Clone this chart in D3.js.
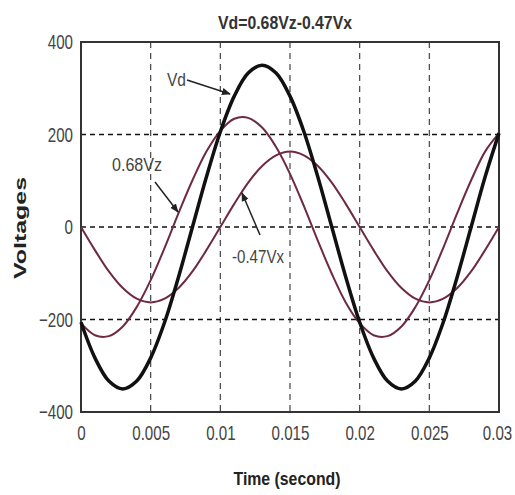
<!DOCTYPE html>
<html>
<head>
<meta charset="utf-8">
<script src="https://cdn.jsdelivr.net/npm/d3@7"></script>
<style>
  body { margin: 0; background: #fff; }
  text { font-family: "Liberation Sans", Arial, sans-serif; }
</style>
</head>
<body>
<script>
// Vd = 0.68Vz - 0.47Vx, readings every 1 ms

var timeMs = d3.range(0, 31);   // 0 .. 30 ms

var vd = [-206, -283, -333, -350, -333, -283, -206, -108, 0, 108,
    206, 283, 333, 350, 333, 283, 206, 108, 0, -108,
    -206, -283, -333, -350, -333, -283, -206, -108, 0, 108, 203];

var vz68 = [-208, -234, -236, -215, -173, -115, -45, 30, 101, 163,
    208, 234, 236, 215, 173, 115, 45, -30, -101, -163,
    -208, -234, -236, -215, -173, -115, -45, 30, 101, 163, 203];

var vx47 = [0, -50, -96, -132, -155, -163, -155, -132, -96, -50,
    0, 50, 96, 132, 155, 163, 155, 132, 96, 50,
    0, -50, -96, -132, -155, -163, -155, -132, -96, -50, 0];

var xTicks = [0, 0.005, 0.01, 0.015, 0.02, 0.025, 0.03];
var yTicks = [-400, -200, 0, 200, 400];

var margin = {left: 81, right: 16, top: 42, bottom: 83},
    width = 515 - margin.left - margin.right,
    height = 495 - margin.top - margin.bottom;

var svg = d3.select("body")
    .append("svg")
    .attr("width", 515)
    .attr("height", 495);

var g = svg.append("g")
    .attr("transform", "translate(" + margin.left + "," + margin.top + ")");

var x = d3.scaleLinear().domain([0, 0.03]).range([0, width]);
var y = d3.scaleLinear().domain([-400, 400]).range([height, 0]);

//squeeze text horizontally, the original uses a narrow face
function narrow(sel, k) {
    sel.each(function() {
        var w = this.getComputedTextLength();
        d3.select(this)
            .attr("textLength", w * k)
            .attr("lengthAdjust", "spacingAndGlyphs");
    });
}

//Dashed grid
g.selectAll(".vgrid")
    .data(xTicks.slice(1, -1))
    .enter().append("line")
    .attr("x1", function(d) { return x(d); })
    .attr("x2", function(d) { return x(d); })
    .attr("y1", 0)
    .attr("y2", height)
    .attr("stroke", "#444")
    .attr("stroke-width", 1.2)
    .attr("stroke-dasharray", "6,5");

g.selectAll(".hgrid")
    .data(yTicks.slice(1, -1))
    .enter().append("line")
    .attr("x1", 0)
    .attr("x2", width)
    .attr("y1", function(d) { return y(d); })
    .attr("y2", function(d) { return y(d); })
    .attr("stroke", "#111")
    .attr("stroke-width", 1.3)
    .attr("stroke-dasharray", "5,4");

//Axes
var xAxis = d3.axisBottom(x)
    .tickValues(xTicks)
    .tickSize(0)
    .tickPadding(13)
    .tickFormat(function(d) { return d3.format("~g")(d); });

var yAxis = d3.axisLeft(y)
    .tickValues(yTicks)
    .tickSize(0)
    .tickPadding(8);

g.append("g")
    .attr("transform", "translate(0," + height + ")")
    .call(xAxis)
    .call(function(s) { s.select(".domain").remove(); })
    .selectAll("text")
    .attr("font-size", 21)
    .attr("fill", "#444")
    .attr("dx", function(d) { return d === 0.03 ? -2 : 0; })
    .call(narrow, 0.72);

g.append("g")
    .call(yAxis)
    .call(function(s) { s.select(".domain").remove(); })
    .selectAll("text")
    .attr("font-size", 21)
    .attr("fill", "#444")
    .call(narrow, 0.72);

//Box
g.append("rect")
    .attr("width", width)
    .attr("height", height)
    .attr("fill", "none")
    .attr("stroke", "#333")
    .attr("stroke-width", 2);

//Curves
var line = d3.line()
    .x(function(d, i) { return x(timeMs[i] / 1000); })
    .y(function(d) { return y(d); })
    .curve(d3.curveCatmullRom);

g.append("path").datum(vx47)
    .attr("d", line)
    .attr("fill", "none")
    .attr("stroke", "#6e2a3f")
    .attr("stroke-width", 2);

g.append("path").datum(vz68)
    .attr("d", line)
    .attr("fill", "none")
    .attr("stroke", "#6e2a3f")
    .attr("stroke-width", 2);

g.append("path").datum(vd)
    .attr("d", line)
    .attr("fill", "none")
    .attr("stroke", "#111")
    .attr("stroke-width", 3.5);

//Annotations with arrows
svg.append("defs").append("marker")
    .attr("id", "arrow")
    .attr("viewBox", "0 0 10 10")
    .attr("refX", 9)
    .attr("refY", 5)
    .attr("markerWidth", 6)
    .attr("markerHeight", 6)
    .attr("orient", "auto")
    .append("path")
    .attr("d", "M0,1L10,5L0,9z")
    .attr("fill", "#222");

var notes = [
    {label: "Vd", tx: 167, ty: 86, w: 19, x1: 187, y1: 80, x2: 230, y2: 94},
    {label: "0.68Vz", tx: 112, ty: 171, w: 50, x1: 155, y1: 182, x2: 178, y2: 212},
    {label: "-0.47Vx", tx: 232, ty: 263, w: 52, x1: 260, y1: 235, x2: 242, y2: 193}
];

notes.forEach(function(n) {
    svg.append("line")
        .attr("x1", n.x1).attr("y1", n.y1)
        .attr("x2", n.x2).attr("y2", n.y2)
        .attr("stroke", "#222")
        .attr("stroke-width", 1.5)
        .attr("marker-end", "url(#arrow)");
    svg.append("text")
        .attr("x", n.tx)
        .attr("y", n.ty)
        .attr("font-size", 19)
        .attr("fill", "#444")
        .attr("textLength", n.w)
        .attr("lengthAdjust", "spacingAndGlyphs")
        .text(n.label);
});

//Titles
svg.append("text")
    .attr("x", 285)
    .attr("y", 29)
    .attr("text-anchor", "middle")
    .attr("font-size", 18)
    .attr("font-weight", "bold")
    .attr("fill", "#333")
    .attr("textLength", 134)
    .attr("lengthAdjust", "spacingAndGlyphs")
    .text("Vd=0.68Vz-0.47Vx");

svg.append("text")
    .attr("x", 287)
    .attr("y", 485)
    .attr("text-anchor", "middle")
    .attr("font-size", 18)
    .attr("font-weight", "bold")
    .attr("fill", "#222")
    .attr("textLength", 107)
    .attr("lengthAdjust", "spacingAndGlyphs")
    .text("Time (second)");

svg.append("text")
    .attr("transform", "translate(26,228) rotate(-90)")
    .attr("text-anchor", "middle")
    .attr("font-size", 16)
    .attr("font-weight", "bold")
    .attr("fill", "#222")
    .attr("textLength", 102)
    .attr("lengthAdjust", "spacingAndGlyphs")
    .text("Voltages");
</script>
</body>
</html>
